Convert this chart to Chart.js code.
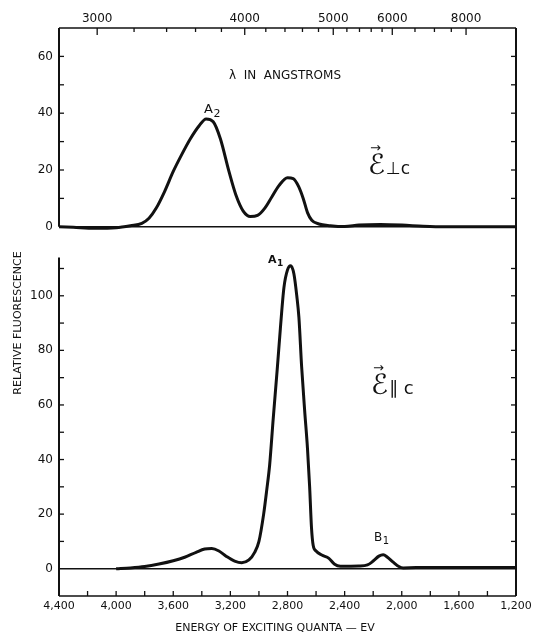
<!DOCTYPE html>
<html>
<head>
<meta charset="utf-8">
<script src="https://cdn.jsdelivr.net/npm/chart.js@4.4.1/dist/chart.umd.min.js"></script>
<style>
  html, body { margin: 0; padding: 0; background: #fff; }
  #wrap { position: relative; width: 538px; height: 637px; }
  #top { position: absolute; left: 0; top: 0; }
  #bottom { position: absolute; left: 0; top: 228px; }
</style>
</head>
<body>
<div id="wrap">
  <canvas id="top" width="538" height="240"></canvas>
  <canvas id="bottom" width="538" height="409"></canvas>
</div>
<script>
// energy axis (as printed), wavelength axis on top
const ENERGY_TICKS = [4400, 4000, 3600, 3200, 2800, 2400, 2000, 1600, 1200];
const ENERGY_MINOR = [4200, 4000, 3800, 3600, 3400, 3200, 3000, 2800, 2600, 2400, 2200, 2000, 1800, 1600, 1400];
const WAVE_LABELS = [3000, 4000, 5000, 6000, 8000];
const WAVE_MINOR = [3200, 3400, 3600, 3800, 4200, 4400, 4600, 4800, 5200, 5400, 5600, 5800, 6500, 7000, 7500];
const HC = 12398000; // energy units * angstrom

const TOP_Y_TICKS = [0, 20, 40, 60];
const BOTTOM_Y_TICKS = [0, 20, 40, 60, 80, 100];

// E perpendicular to c
const PERP_ENERGY = [4400, 4300, 4150, 4000, 3900, 3820, 3770, 3720, 3660, 3600, 3540, 3480, 3420, 3370,
  3320, 3270, 3210, 3160, 3110, 3060, 3010, 2960, 2910, 2860, 2800, 2760, 2720, 2690, 2660, 2630,
  2580, 2500, 2400, 2300, 2150, 2000, 1850, 1700, 1200];
const PERP_VALUES = [0, -0.2, -0.5, -0.3, 0.4, 1.2, 3, 6.5, 12.5, 19.5, 25.5, 31, 35.5, 38,
  37, 31, 19.5, 11, 5.5, 3.6, 4, 6.5, 10.5, 14.5, 17.3, 17, 14, 10, 5, 2.3,
  1, 0.4, 0.1, 0.6, 0.8, 0.6, 0.2, 0, 0];

// E parallel to c
const PAR_ENERGY = [4000, 3900, 3800, 3700, 3600, 3520, 3440, 3380, 3330, 3280, 3230, 3170, 3120, 3070,
  3030, 3000, 2967, 2945, 2925, 2900, 2872, 2850, 2825, 2800, 2778, 2755, 2735, 2720, 2701, 2680,
  2660, 2645, 2632, 2620, 2600, 2560, 2510, 2470, 2430, 2300, 2240, 2200, 2160, 2130, 2100, 2060,
  2020, 1990, 1900, 1200];
const PAR_VALUES = [0, 0.3, 0.8, 1.7, 2.9, 4.2, 6, 7.2, 7.4, 6.5, 4.6, 2.8, 2.2, 3.2,
  6, 10, 20, 29, 38, 55, 73, 88, 103, 109.5, 111, 108, 100, 92, 74, 58,
  44, 30, 15, 8.5, 6.5, 5, 3.8, 1.6, 0.9, 1, 1.4, 2.8, 4.6, 5.1, 4.2, 2.4,
  0.8, 0.3, 0.4, 0.4];

const INK = '#111';
const FONT = 'DejaVu Sans';

function line(ctx, x1, y1, x2, y2) {
  ctx.beginPath();
  ctx.moveTo(x1, y1);
  ctx.lineTo(x2, y2);
  ctx.stroke();
}

function subText(ctx, main, sub, x, y, size, subSize, weight) {
  ctx.font = `${weight || ''} ${size}px ${FONT}`;
  ctx.fillText(main, x, y);
  const w = ctx.measureText(main).width;
  ctx.font = `${weight || ''} ${subSize}px ${FONT}`;
  ctx.fillText(sub, x + w + 0.5, y + size * 0.28);
}

function vecE(ctx, x, y, rest, restSize) {
  ctx.font = `28px ${FONT}`;
  ctx.fillText('\u2130', x, y);
  const w = ctx.measureText('\u2130').width;
  ctx.font = `13px ${FONT}`;
  ctx.fillText('\u2192', x + 2, y - 22);
  ctx.font = `${restSize}px ${FONT}`;
  ctx.fillText(rest, x + w + 1, y);
}

const topDecor = {
  id: 'topDecor',
  beforeDatasetsDraw(chart) {
    const { ctx, chartArea: a, scales: { y } } = chart;
    ctx.save();
    ctx.strokeStyle = INK;
    ctx.lineWidth = 1.6;
    line(ctx, a.left, y.getPixelForValue(0), a.right, y.getPixelForValue(0));
    ctx.restore();
  },
  afterDatasetsDraw(chart) {
    const { ctx, chartArea: a, scales: { x, y } } = chart;
    ctx.save();
    ctx.strokeStyle = INK;
    ctx.fillStyle = INK;
    ctx.lineWidth = 1.6;
    line(ctx, a.left, a.top, a.right, a.top);
    ctx.lineWidth = 2;
    line(ctx, a.left, a.top, a.left, a.bottom);
    line(ctx, a.right, a.top, a.right, chart.height);
    ctx.lineWidth = 1.3;
    for (let v = 10; v <= 60; v += 10) {
      const py = y.getPixelForValue(v);
      line(ctx, a.left, py, a.left + 5, py);
      line(ctx, a.right - 5, py, a.right, py);
    }
    WAVE_LABELS.forEach(w => {
      const px = x.getPixelForValue(HC / w);
      line(ctx, px, a.top, px, a.top + 7);
    });
    WAVE_MINOR.forEach(w => {
      const px = x.getPixelForValue(HC / w);
      line(ctx, px, a.top, px, a.top + 4);
    });

    ctx.textBaseline = 'alphabetic';
    ctx.font = `12px ${FONT}`;
    ctx.textAlign = 'center';
    ctx.fillText('\u03bb  IN  ANGSTROMS', 285, 79);
    ctx.textAlign = 'left';
    subText(ctx, 'A', '2', 204, 113, 13, 11);
    vecE(ctx, 368, 174, '\u22a5c', 17);
    ctx.restore();
  }
};

const bottomDecor = {
  id: 'bottomDecor',
  beforeDatasetsDraw(chart) {
    const { ctx, chartArea: a, scales: { y } } = chart;
    ctx.save();
    ctx.strokeStyle = INK;
    ctx.lineWidth = 1.6;
    line(ctx, a.left, y.getPixelForValue(0), a.right, y.getPixelForValue(0));
    ctx.restore();
  },
  afterDatasetsDraw(chart) {
    const { ctx, chartArea: a, scales: { x, y } } = chart;
    ctx.save();
    ctx.strokeStyle = INK;
    ctx.fillStyle = INK;
    ctx.lineWidth = 2;
    line(ctx, a.left, y.getPixelForValue(114), a.left, a.bottom);
    line(ctx, a.right, 0, a.right, a.bottom);
    ctx.lineWidth = 1.6;
    line(ctx, a.left, a.bottom, a.right, a.bottom);
    ctx.lineWidth = 1.3;
    for (let v = 10; v <= 110; v += 10) {
      const py = y.getPixelForValue(v);
      line(ctx, a.left, py, a.left + 5, py);
      line(ctx, a.right - 5, py, a.right, py);
    }
    ENERGY_MINOR.forEach(e => {
      const px = x.getPixelForValue(e);
      line(ctx, px, a.bottom, px, a.bottom - 5);
    });

    ctx.textAlign = 'left';
    ctx.textBaseline = 'alphabetic';
    subText(ctx, 'A', '1', 268, 35, 11, 9, 'bold');
    subText(ctx, 'B', '1', 374, 313, 12, 10);
    vecE(ctx, 371, 166, '\u2225 c', 18);

    ctx.font = `11px ${FONT}`;
    ctx.textAlign = 'center';
    ctx.textBaseline = 'middle';
    ctx.fillText('ENERGY OF EXCITING QUANTA \u2014 EV', 275, 400);
    ctx.save();
    ctx.translate(18, 95);
    ctx.rotate(-Math.PI / 2);
    ctx.fillText('RELATIVE FLUORESCENCE', 0, 0);
    ctx.restore();
    ctx.restore();
  }
};

const curve = (xs, ys) => ({
  data: xs.map((e, i) => ({ x: e, y: ys[i] })),
  borderColor: INK,
  borderWidth: 3,
  pointRadius: 0,
  cubicInterpolationMode: 'monotone',
  fill: false,
  clip: false
});

const baseOpts = {
  responsive: false,
  animation: false,
  events: [],
  plugins: { legend: { display: false }, tooltip: { enabled: false } }
};

const noGrid = { display: false, drawTicks: false };

const TOP_CHART = new Chart(document.getElementById('top'), {
  type: 'line',
  data: { datasets: [curve(PERP_ENERGY, PERP_VALUES)] },
  plugins: [topDecor],
  options: {
    ...baseOpts,
    layout: { padding: { left: 0, right: 22, top: 0, bottom: 12 } },
    scales: {
      x: { type: 'linear', min: 1200, max: 4400, reverse: true, display: false },
      x2: {
        type: 'linear', position: 'top', min: 1200, max: 4400, reverse: true,
        grid: noGrid, border: { display: false },
        afterBuildTicks: s => { s.ticks = WAVE_LABELS.map(w => ({ value: HC / w })); },
        afterFit: s => { s.height = 28; },
        ticks: {
          color: INK, padding: 2, maxRotation: 0, autoSkip: false,
          font: { family: FONT, size: 12 },
          callback: (v, i) => String(WAVE_LABELS[i])
        }
      },
      y: {
        min: 0, max: 70,
        grid: noGrid, border: { display: false },
        afterBuildTicks: s => { s.ticks = TOP_Y_TICKS.map(v => ({ value: v })); },
        afterFit: s => { s.width = 59; },
        ticks: { color: INK, padding: 6, font: { family: FONT, size: 12 } }
      }
    }
  }
});

const BOTTOM_CHART = new Chart(document.getElementById('bottom'), {
  type: 'line',
  data: { datasets: [curve(PAR_ENERGY, PAR_VALUES)] },
  plugins: [bottomDecor],
  options: {
    ...baseOpts,
    layout: { padding: { left: 0, right: 22, top: 0, bottom: 0 } },
    scales: {
      x: {
        type: 'linear', min: 1200, max: 4400, reverse: true,
        grid: noGrid, border: { display: false },
        afterBuildTicks: s => { s.ticks = ENERGY_TICKS.map(v => ({ value: v })); },
        afterFit: s => { s.height = 41; },
        ticks: {
          color: INK, padding: 4, maxRotation: 0, autoSkip: false,
          font: { family: FONT, size: 11 },
          callback: v => v.toLocaleString('en-US')
        }
      },
      y: {
        min: -10, max: 120,
        grid: noGrid, border: { display: false },
        afterBuildTicks: s => { s.ticks = BOTTOM_Y_TICKS.map(v => ({ value: v })); },
        afterFit: s => { s.width = 59; },
        ticks: { color: INK, padding: 6, font: { family: FONT, size: 12 } }
      }
    }
  }
});
</script>
</body>
</html>
